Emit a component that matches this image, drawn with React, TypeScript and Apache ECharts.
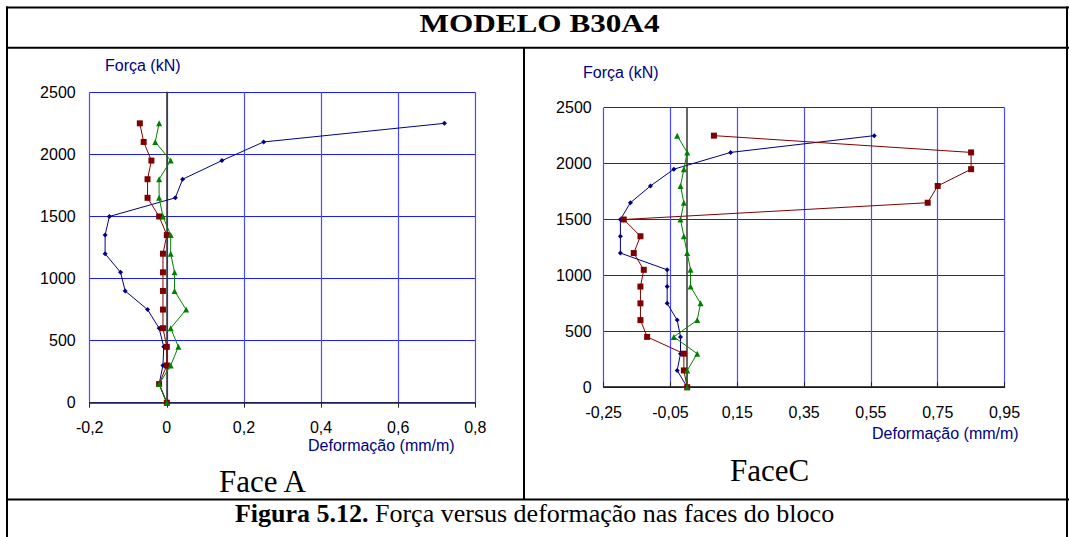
import React, { useEffect, useRef } from 'react';
import * as echarts from 'echarts';

// Force levels (kN) shared by all series
const forceLevels = [0, 150, 300, 450, 600, 750, 900, 1050, 1200, 1350, 1500, 1650, 1800, 1950, 2100, 2250];

// Face A strains (mm/m)
const faceABlue = [0, -0.02, -0.01, -0.008, -0.02, -0.05, -0.108, -0.12, -0.16, -0.16, -0.149, 0.022, 0.041, 0.143, 0.251, 0.72];
const faceARed = [0, -0.02, 0, 0, -0.01, -0.01, -0.01, -0.01, -0.01, 0, -0.02, -0.05, -0.05, -0.04, -0.06, -0.07];
const faceAGreen = [0, -0.02, 0.01, 0.03, 0.01, 0.05, 0.02, 0.02, 0.01, 0.01, -0.01, -0.02, -0.02, 0.01, -0.03, -0.02];

// Face C strains (mm/m)
const faceCBlue = [0, -0.03, -0.02, -0.02, -0.03, -0.06, -0.06, -0.06, -0.2, -0.2, -0.2, -0.17, -0.11, -0.04, 0.13, 0.56];
const faceCRed = [0, -0.01, -0.01, -0.12, -0.14, -0.14, -0.14, -0.13, -0.16, -0.14, -0.19, 0.72, 0.75, 0.85, 0.85, 0.08];
const faceCGreen = [0, 0, 0.03, -0.04, 0.03, 0.04, 0.01, 0.01, 0, -0.01, -0.02, -0.01, -0.02, -0.01, 0, -0.03];

// Axis settings
const faceAXMin = -0.2;
const faceAXMax = 0.8;
const faceCXMin = -0.25;
const faceCXMax = 0.95;
const xStep = 0.2;
const yMax = 2500;
const yStep = 500;

const titleText = 'MODELO B30A4';
const captionBold = 'Figura 5.12.';
const captionRest = ' Força versus deformação nas faces do bloco';
const yName = 'Força (kN)';
const xName = 'Deformação (mm/m)';
const faceALabel = 'Face A';
const faceCLabel = 'FaceC';

const SANS = "'Liberation Sans', Arial, sans-serif";
const SERIF = "'Liberation Serif', 'Times New Roman', serif";

const comma = (s: string) => s.replace('.', ',');

function mkSeries(vals: number[], name: string, color: string, symbol: string, size: number, xi: number, yi: number, z: number) {
  return {
    type: 'line',
    name,
    xAxisIndex: xi,
    yAxisIndex: yi,
    data: forceLevels.map((f, i) => [vals[i], f]),
    symbol,
    symbolSize: size,
    showSymbol: true,
    lineStyle: { color, width: 1 },
    itemStyle: { color },
    emphasis: { disabled: true },
    silent: true,
    z,
  };
}

export default function App() {
  const ref = useRef<HTMLDivElement>(null);
  useEffect(() => {
    if (!ref.current) return;
    const chart = echarts.init(ref.current, undefined, { renderer: 'svg' });
    const gridV = { show: true, lineStyle: { color: '#4a4aff', width: 1.2 } };
    const gridH = { show: true, lineStyle: { color: '#1a1aff', width: 1 } };
    const lbl = { color: '#000', fontSize: 16, fontFamily: SANS };
    const yFmt = (v: number) => String(v);
    const option: any = {
      animation: false,
      grid: [
        { left: 89.7, top: 92.3, width: 385.6, height: 310.4, containLabel: false },
        { left: 603.7, top: 107.7, width: 400.8, height: 279.5, containLabel: false },
      ],
      xAxis: [
        {
          gridIndex: 0, type: 'value', min: faceAXMin, max: faceAXMax, interval: xStep,
          axisLine: { show: true, onZero: false, lineStyle: { color: '#222', width: 1.5 } },
          axisTick: { show: true, inside: false, length: 5, lineStyle: { color: '#222' } },
          axisLabel: { ...lbl, margin: 17, formatter: (v: number) => comma(String(Math.round(v * 10) / 10)) },
          splitLine: gridV,
        },
        {
          // shifted display axis for Face C so ticks start at -0,25
          gridIndex: 1, type: 'value', min: 0, max: faceCXMax - faceCXMin, interval: xStep,
          axisLine: { show: true, onZero: false, lineStyle: { color: '#111', width: 1.5 } },
          axisTick: { show: true, inside: true, length: 5, lineStyle: { color: '#222' } },
          axisLabel: { ...lbl, margin: 17, formatter: (v: number) => comma((Math.round((v + faceCXMin) * 100) / 100).toFixed(2)) },
          splitLine: gridV,
        },
        {
          gridIndex: 1, type: 'value', min: faceCXMin, max: faceCXMax, show: false,
          axisLine: { onZero: false },
        },
      ],
      yAxis: [
        {
          gridIndex: 0, type: 'value', min: 0, max: yMax, interval: yStep, position: 'left',
          axisLine: { show: false, onZero: false }, axisTick: { show: false },
          axisLabel: { ...lbl, margin: 14, formatter: yFmt },
          splitLine: gridH,
        },
        {
          gridIndex: 0, type: 'value', min: 0, max: yMax, interval: yStep,
          axisLine: { show: true, onZero: true, onZeroAxisIndex: 0, lineStyle: { color: '#333', width: 1.5 } },
          axisTick: { show: true, inside: true, length: 5, lineStyle: { color: '#333' } },
          axisLabel: { show: false }, splitLine: { show: false },
        },
        {
          gridIndex: 1, type: 'value', min: 0, max: yMax, interval: yStep, position: 'left',
          axisLine: { show: false, onZero: false }, axisTick: { show: false },
          axisLabel: { ...lbl, margin: 12, formatter: yFmt },
          splitLine: gridH,
        },
        {
          gridIndex: 1, type: 'value', min: 0, max: yMax, interval: yStep,
          axisLine: { show: true, onZero: true, onZeroAxisIndex: 2, lineStyle: { color: '#333', width: 1.5 } },
          axisTick: { show: true, inside: true, length: 5, lineStyle: { color: '#333' } },
          axisLabel: { show: false }, splitLine: { show: false },
        },
      ],
      series: [
        mkSeries(faceABlue, 'A1', '#000080', 'diamond', 5, 0, 0, 3),
        mkSeries(faceARed, 'A2', '#800000', 'rect', 6, 0, 0, 4),
        mkSeries(faceAGreen, 'A3', '#008000', 'triangle', 6, 0, 0, 5),
        mkSeries(faceCBlue, 'C1', '#000080', 'diamond', 5, 2, 2, 3),
        mkSeries(faceCRed, 'C2', '#800000', 'rect', 6, 2, 2, 4),
        mkSeries(faceCGreen, 'C3', '#008000', 'triangle', 6, 2, 2, 5),
      ],
      graphic: [
        // frame
        { type: 'line', shape: { x1: 6, y1: 7.5, x2: 1069, y2: 7.5 }, style: { stroke: '#000', lineWidth: 2 } },
        { type: 'line', shape: { x1: 7, y1: 6.5, x2: 7, y2: 537 }, style: { stroke: '#000', lineWidth: 2 } },
        { type: 'line', shape: { x1: 1067, y1: 6.5, x2: 1067, y2: 537 }, style: { stroke: '#000', lineWidth: 2 } },
        { type: 'line', shape: { x1: 6, y1: 47.7, x2: 1069, y2: 47.7 }, style: { stroke: '#000', lineWidth: 2 } },
        { type: 'line', shape: { x1: 6, y1: 499.5, x2: 1069, y2: 499.5 }, style: { stroke: '#000', lineWidth: 2 } },
        { type: 'line', shape: { x1: 524, y1: 47.7, x2: 524, y2: 499.5 }, style: { stroke: '#000', lineWidth: 2 } },
        // title
        {
          type: 'text', x: 539.5, y: 22.5, scaleX: 1.2,
          style: { text: titleText, fontSize: 26, fontWeight: 'bold', fontFamily: SERIF, fill: '#000', align: 'center', verticalAlign: 'middle' },
        },
        // axis names
        { type: 'text', x: 105, y: 65.5, style: { text: yName, fontSize: 16, fontFamily: SANS, fill: '#000080', align: 'left', verticalAlign: 'middle' } },
        { type: 'text', x: 308, y: 445, style: { text: xName, fontSize: 16, fontFamily: SANS, fill: '#000080', align: 'left', verticalAlign: 'middle' } },
        { type: 'text', x: 583, y: 72, style: { text: yName, fontSize: 16, fontFamily: SANS, fill: '#000080', align: 'left', verticalAlign: 'middle' } },
        { type: 'text', x: 872, y: 433, style: { text: xName, fontSize: 16, fontFamily: SANS, fill: '#000080', align: 'left', verticalAlign: 'middle' } },
        // face labels
        { type: 'text', x: 219, y: 481.5, style: { text: faceALabel, fontSize: 31, fontFamily: SERIF, fill: '#000', align: 'left', verticalAlign: 'middle' } },
        { type: 'text', x: 730, y: 470, style: { text: faceCLabel, fontSize: 31, fontFamily: SERIF, fill: '#000', align: 'left', verticalAlign: 'middle' } },
        // caption
        {
          type: 'text', x: 534.5, y: 513,
          style: {
            text: '{b|' + captionBold + '}' + captionRest,
            rich: { b: { fontWeight: 'bold', fontSize: 26, fontFamily: SERIF, fill: '#000' } },
            fontSize: 26, fontFamily: SERIF, fill: '#000', align: 'center', verticalAlign: 'middle',
          },
        },
      ],
    };
    chart.setOption(option);
    return () => chart.dispose();
  }, []);
  return <div ref={ref} style={{ position: 'absolute', left: 0, top: 0, width: 1069, height: 537, background: '#fff' }} />;
}
